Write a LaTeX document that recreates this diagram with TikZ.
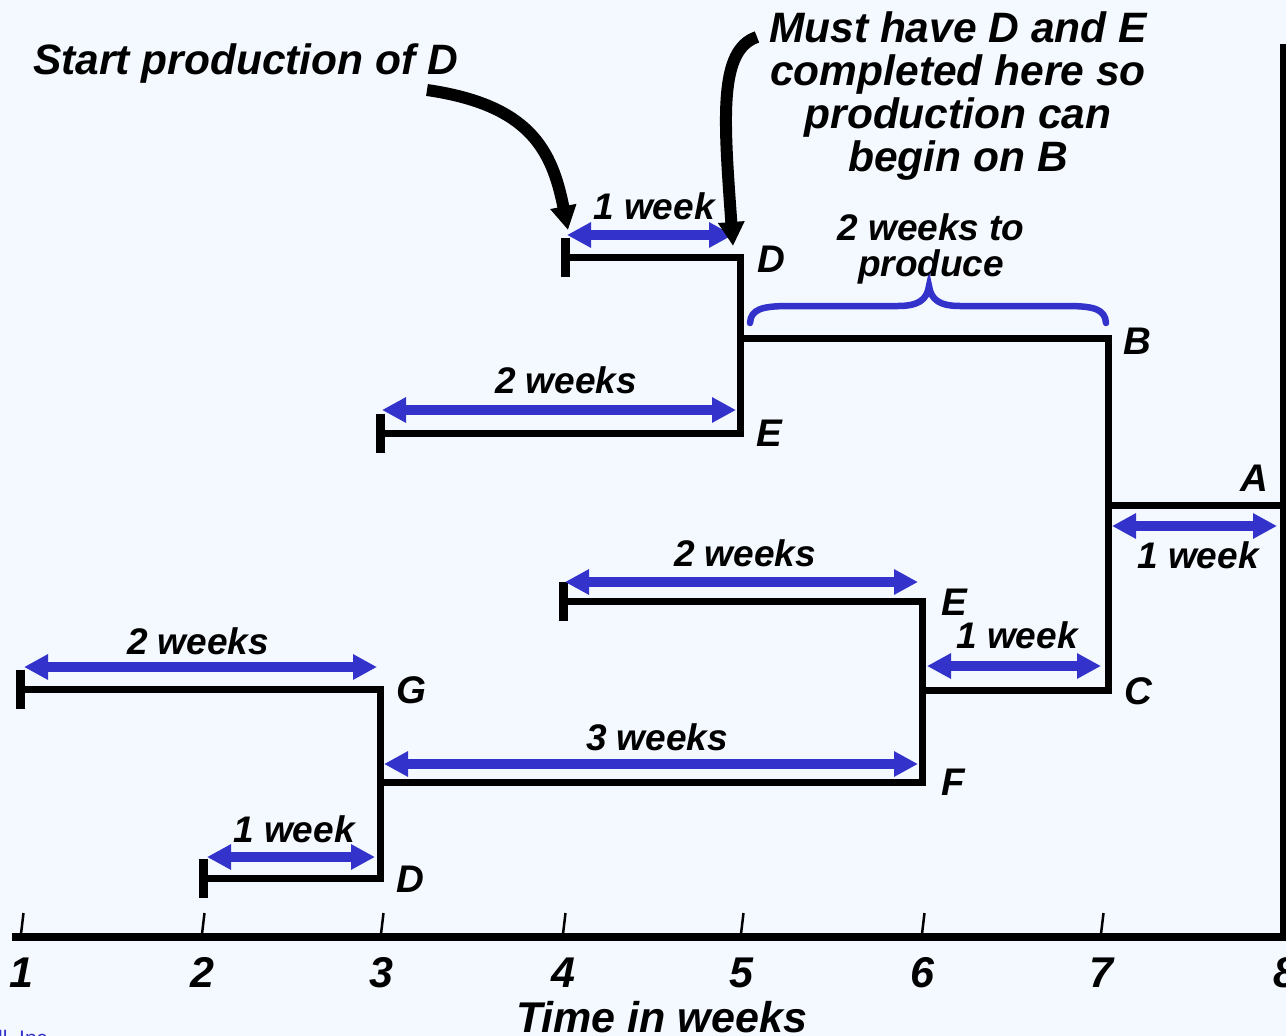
\documentclass[tikz,border=0pt]{standalone}
\usepackage{fontspec}
\setmainfont{Liberation Sans}
\usetikzlibrary{arrows.meta}
\definecolor{paper}{RGB}{244,249,255}
\definecolor{spanblue}{RGB}{51,51,204}

\tikzset{
  wire/.style={line width=7pt, line join=miter, line cap=butt},
  startbar/.style={line width=9pt},
  axisline/.style={line width=8pt, line cap=butt},
  tick/.style={line width=2.5pt},
  span/.style={draw=spanblue, line width=10pt,
    {Triangle[length=24pt,width=24pt]}-{Triangle[length=24pt,width=24pt]}},
  brace/.style={draw=spanblue, line width=6.5pt, line cap=round},
  callout/.style={line width=12pt, -{Triangle[length=24pt,width=25pt]}},
  lbl/.style={font=\bfseries\itshape\fontsize{37}{37}\selectfont, inner sep=0pt, anchor=base},
  letter/.style={font=\bfseries\itshape\fontsize{38.5}{38.5}\selectfont, inner sep=0pt, anchor=base west},
  num/.style={font=\bfseries\itshape\fontsize{43}{43}\selectfont, inner sep=0pt, anchor=base},
  note/.style={font=\bfseries\itshape\fontsize{42.5}{43}\selectfont, inner sep=0pt, align=center},
}

\begin{document}
\begin{tikzpicture}[x=1pt,y=-1pt]
\useasboundingbox (0,0) rectangle (1286,1036);
\fill[paper] (0,0) rectangle (1286,1036);
\clip (0,0) rectangle (1286,1036);

% ---- junction points of the product tree
\coordinate (dS)  at (565,257);  \coordinate (dJ)  at (740,257);
\coordinate (eS)  at (380,433);  \coordinate (eJ)  at (740,433);
\coordinate (bJ)  at (740,338);  \coordinate (bE)  at (1108,338);
\coordinate (cJ)  at (1108,690); \coordinate (cS)  at (922,690);
\coordinate (aJ)  at (1108,505); \coordinate (aE)  at (1283,505);
\coordinate (e2S) at (563,601);  \coordinate (e2J) at (922,601);
\coordinate (fJ)  at (922,782);  \coordinate (fS)  at (380,782);
\coordinate (gS)  at (20,689);   \coordinate (gJ)  at (380,689);
\coordinate (d2S) at (203,878);  \coordinate (d2J) at (380,878);

% ---- time axis
\coordinate (axL) at (12,937);  \coordinate (axR) at (1286,937);
\coordinate (axB) at (1283,941); \coordinate (axT) at (1283,44);
\draw[axisline] (axL) -- (axR);
\draw[line width=7pt] (axB) -- (axT);
\foreach \n/\x in {1/21,2/202,3/381,4/563,5/741,6/922,7/1101}{
  \coordinate (tk\n) at (\x,934);
  \coordinate (tt\n) at (\x+2.5,913);
  \draw[tick] (tk\n) -- (tt\n);
  \node[num] (n\n) at (\x,987) {\n};
}
\node[num] (n8) at (1285,987) {8};
\node[num, anchor=base west] (tw) at (516,1032) {Time in weeks};

% ---- tree wires
\draw[wire] (dS) -- (dJ) -- (eJ) -- (eS);
\draw[wire] (bJ) -- (bE) -- (cJ) -- (cS);
\draw[wire] (aJ) -- (aE);
\draw[wire] (e2S) -- (e2J) -- (fJ) -- (fS);
\draw[wire] (gS) -- (gJ) -- (d2J) -- (d2S);
\foreach \p in {dS,eS,e2S,gS,d2S}
  \draw[startbar] ([yshift=19.5pt]\p) -- ([yshift=-19.5pt]\p);

% ---- item letters
\node[letter] (lD1) at (757,272) {D};
\node[letter] (lB)  at (1123,354) {B};
\node[letter] (lE1) at (756,446) {E};
\node[letter] (lA)  at (1240,491) {A};
\node[letter] (lE2) at (941,615) {E};
\node[letter] (lC)  at (1124,704) {C};
\node[letter] (lG)  at (396,703) {G};
\node[letter] (lF)  at (941,795) {F};
\node[letter] (lD2) at (396,892) {D};

% ---- lead-time spans
\coordinate (s1a) at (567,235);  \coordinate (s1b) at (733,235);
\coordinate (s2a) at (382,410);  \coordinate (s2b) at (736,410);
\coordinate (s3a) at (565,582);  \coordinate (s3b) at (918,582);
\coordinate (s4a) at (24,667);   \coordinate (s4b) at (377,667);
\coordinate (s5a) at (384,764);  \coordinate (s5b) at (918,764);
\coordinate (s6a) at (207,857);  \coordinate (s6b) at (375,857);
\coordinate (s7a) at (927,666);  \coordinate (s7b) at (1101,666);
\coordinate (s8a) at (1112,526); \coordinate (s8b) at (1277,526);
\foreach \a/\b in {s1a/s1b,s2a/s2b,s3a/s3b,s4a/s4b,s5a/s5b,s6a/s6b,s7a/s7b,s8a/s8b}
  \draw[span] (\a) -- (\b);

\node[lbl] (w1) at (654,219) {1 week};
\node[lbl] (w2) at (566,393) {2 weeks};
\node[lbl] (w3) at (745,566) {2 weeks};
\node[lbl] (w4) at (198,654) {2 weeks};
\node[lbl] (w5) at (657,750) {3 weeks};
\node[lbl] (w6) at (294,842) {1 week};
\node[lbl] (w7) at (1017,648) {1 week};
\node[lbl] (w8) at (1198,568) {1 week};

% ---- brace over the B production span
\coordinate (brL) at (750,323);
\coordinate (brT) at (929,286);
\coordinate (brR) at (1106,323);
\draw[brace] (brL) .. controls (751,309) and (762,306) .. (790,306)
  -- (898,306) .. controls (918,306) and (927,300) .. (brT)
  .. controls (931,300) and (940,306) .. (960,306)
  -- (1066,306) .. controls (1094,306) and (1105,309) .. (brR);
\node[lbl, anchor=north, align=center, font=\bfseries\itshape\fontsize{37}{36.5}\selectfont]
  (prod) at (931,213) {2 weeks to\\produce};

% ---- callouts
\node[note, anchor=base west] (startD) at (33,74) {Start production of D};
\node[note, anchor=north] (must) at (958,12)
  {Must have D and E\\completed here so\\production can\\begin on B};
\coordinate (c1s) at (427,90);  \coordinate (c1t) at (568,230);
\coordinate (c2s) at (757,37);  \coordinate (c2t) at (733,246);
\draw[callout] (c1s) .. controls (530,105) and (552,150) .. (c1t);
\draw[callout] (c2s) .. controls (718,50) and (724,120) .. (c2t);

% ---- publisher credit at the lower edge
\node[inner sep=0pt, anchor=base west, text=spanblue, font=\fontsize{21}{21}\selectfont]
  (credit) at (-2,1045) {ll, Inc.};
\end{tikzpicture}
\end{document}
